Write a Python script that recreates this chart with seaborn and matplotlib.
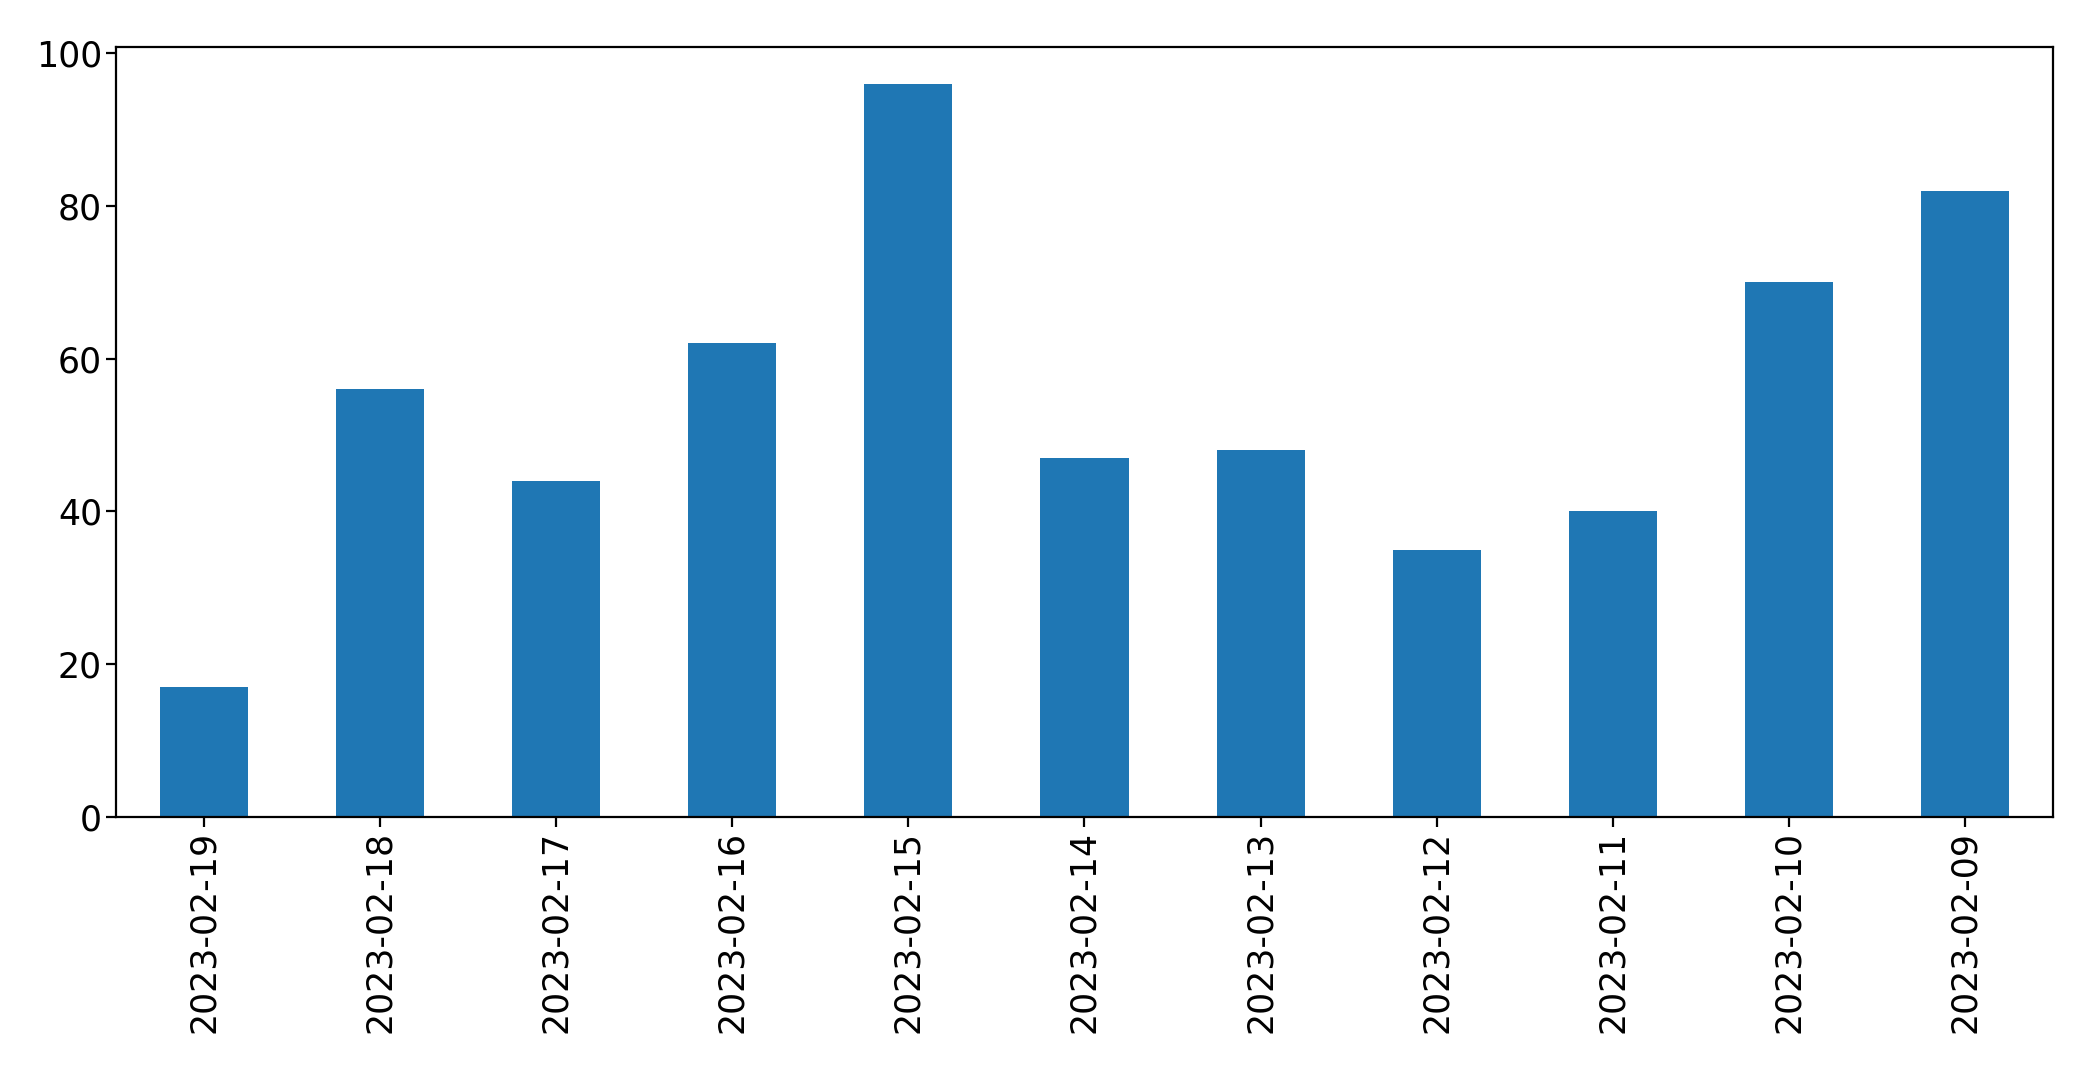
import numpy as np
import pandas as pd
import matplotlib
matplotlib.use("Agg")
import matplotlib.pyplot as plt
import seaborn as sns

# data
dates = ['2023-02-19', '2023-02-18', '2023-02-17', '2023-02-16', '2023-02-15',
         '2023-02-14', '2023-02-13', '2023-02-12', '2023-02-11', '2023-02-10',
         '2023-02-09']
counts = [17, 56, 44, 62, 96, 47, 48, 35, 40, 70, 82]

df = pd.DataFrame({'date': dates, 'count': counts})

plt.rcParams['font.family'] = ['DejaVu Sans']
fig = plt.figure(figsize=(10.465, 5.345), dpi=200)
ax = fig.add_axes([0.0554, 0.2357, 0.9809 - 0.0554, 0.956 - 0.2357])

sns.barplot(data=df, x='date', y='count', order=dates, color='#1f77b4',
            saturation=1, width=0.5, ax=ax)

ax.set_xlim(-0.5, len(dates) - 0.5)
ax.set_ylim(0, max(counts) * 1.05)
ax.set_xlabel('')
ax.set_ylabel('')
ax.tick_params(axis='both', labelsize=12.5, pad=1.5)
plt.setp(ax.get_xticklabels(), rotation=90)

fig.savefig('out.png', dpi=200)
